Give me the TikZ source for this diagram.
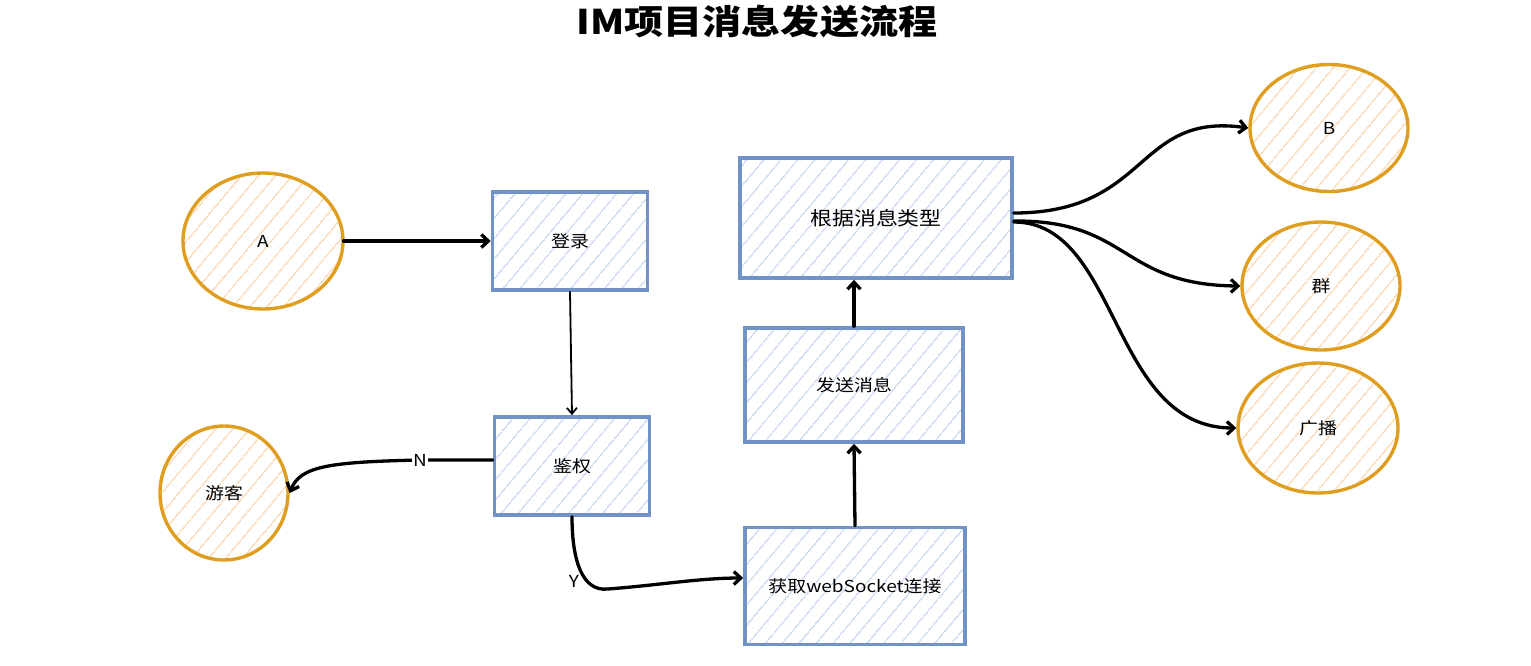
\documentclass[tikz,border=0pt]{standalone}
\usepackage{fontspec}
\setmainfont{Noto Sans CJK SC}[FakeStretch=1.15]
\usetikzlibrary{shapes.geometric,arrows.meta,patterns.meta}
\definecolor{ostroke}{RGB}{224,158,32}
\definecolor{ohatch}{RGB}{250,205,160}
\definecolor{bstroke}{RGB}{112,146,196}
\definecolor{bhatch}{RGB}{190,208,240}
\tikzset{
  hatch/.style={pattern={Lines[angle=50,distance=13pt,line width=1.1pt]}},
  circ/.style={ellipse, draw=ostroke, line width=3.4pt, hatch, pattern color=ohatch,
    font=\fontsize{16.5}{20}\selectfont, inner sep=0pt},
  boxx/.style={rectangle, draw=bstroke, line width=3.6pt, hatch, pattern color=bhatch,
    font=\fontsize{16.5}{20}\selectfont, inner sep=0pt},
  conn/.style={line width=3.3pt, line cap=round,
    -{Straight Barb[length=7pt,width=13pt]}},
  thinconn/.style={line width=1.8pt, line cap=round,
    -{Straight Barb[length=6pt,width=10pt]}},
  lab/.style={fill=white, inner sep=1pt, font=\fontsize{16.5}{20}\selectfont},
}
\begin{document}
\begin{tikzpicture}[x=1pt,y=-1pt]
\useasboundingbox (0,0) rectangle (1531,665);
\node[font=\fontsize{34}{38}\selectfont\bfseries] (title) at (757,22) {IM项目消息发送流程};

\node[circ, minimum width=160pt, minimum height=136pt] (A) at (263,241) {A};
\node[boxx, minimum width=155pt, minimum height=98pt] (login) at (570,241) {登录};
\node[boxx, minimum width=155pt, minimum height=98pt] (auth) at (572,466) {鉴权};
\node[circ, minimum width=128pt, minimum height=134pt] (guest) at (224,493) {游客};
\node[boxx, minimum width=220pt, minimum height=117pt] (ws) at (855,586) {获取webSocket连接};
\node[boxx, minimum width=218pt, minimum height=114pt] (send) at (854,385) {发送消息};
\node[boxx, minimum width=272pt, minimum height=120pt, font=\fontsize{19}{22}\selectfont] (type) at (876,218) {根据消息类型};
\node[circ, minimum width=158pt, minimum height=127pt] (B) at (1329,128) {B};
\node[circ, minimum width=158pt, minimum height=128pt] (grp) at (1321,286) {群};
\node[circ, minimum width=160pt, minimum height=130pt] (bc) at (1318,428) {广播};

\draw[conn] (A.east) -- (login.west);
\draw[thinconn] (login.south) -- (auth.north);
\draw[conn] ([yshift=6pt]auth.west) -- (420,460) node[lab] (nlab) {N}
  .. controls (330,462) and (300,466) .. (guest.east);
\draw[conn] (auth.south) .. controls (572,560) and (582,592) .. (608,589)
  .. controls (660,585) and (700,578) .. ([yshift=8pt]ws.west);
\node[font=\fontsize{16.5}{20}\selectfont] (ylab) at (574,581) {Y};
\draw[conn] (ws.north) -- (send.south);
\draw[conn] (send.north) -- (send.north |- type.south);
\draw[conn] ([yshift=5pt]type.east) .. controls (1150,213) and (1135,112) .. (B.west);
\draw[conn] ([yshift=-3pt]type.east) .. controls (1130,220) and (1120,285) .. (grp.west);
\draw[conn] ([yshift=-4pt]type.east) .. controls (1120,222) and (1110,428) .. (bc.west);
\end{tikzpicture}
\end{document}
